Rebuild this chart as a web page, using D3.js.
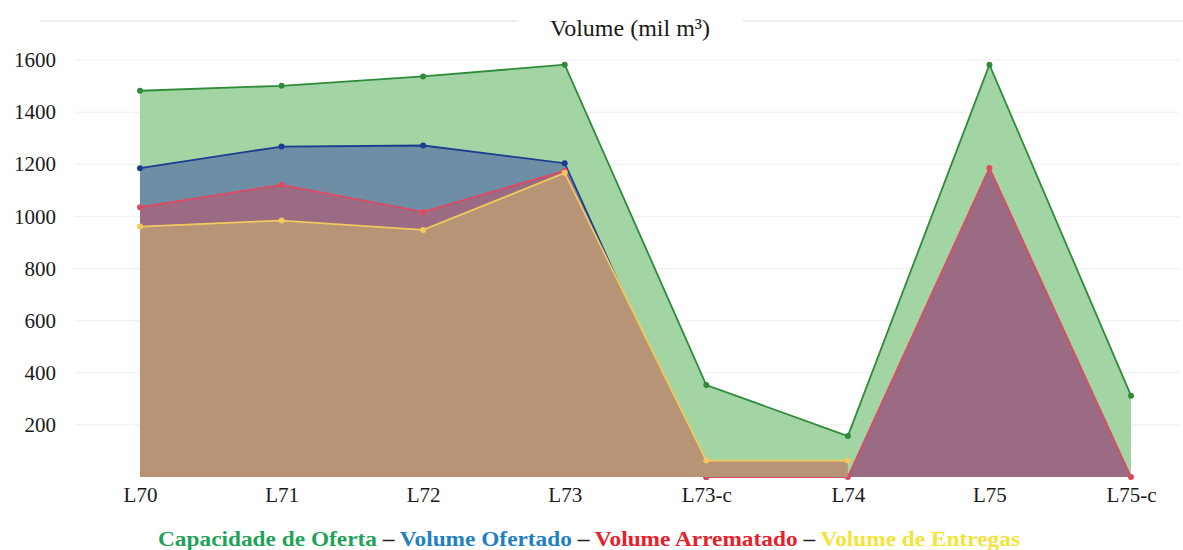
<!DOCTYPE html>
<html>
<head>
<meta charset="utf-8">
<script src="https://cdn.jsdelivr.net/npm/d3@7"></script>
<style>
body{margin:0;background:#fff;}
svg{display:block;}
</style>
</head>
<body>
<svg id="chart" width="1183" height="550"></svg>
<script>
const categories = ["L70","L71","L72","L73","L73-c","L74","L75","L75-c"];
const capacidade = [1482,1501,1537,1582,353,157,1582,312];
const ofertado   = [1185,1268,1272,1204,0,null,null,null];
const arrematado = [1035,1121,1017,1175,0,0,1186,0];
const entregas   = [961,984,948,1167,63,63,null,null];
const yTicks = [200,400,600,800,1000,1200,1400,1600];
const seriesNames = ["Capacidade de Oferta","Volume Ofertado","Volume Arrematado","Volume de Entregas"];

const FONT = "Liberation Serif, Times New Roman, serif";

const series = [
  {name:seriesNames[0], values:capacidade, fill:"#a3d4a3", stroke:"#2f8a3a", legend:"#1fa35a"},
  {name:seriesNames[1], values:ofertado,   fill:"#6e8ea6", stroke:"#1c3c8f", legend:"#1f80c4"},
  {name:seriesNames[2], values:arrematado, fill:"#9a6b83", stroke:"#dc4a64", legend:"#e8202c"},
  {name:seriesNames[3], values:entregas,   fill:"#b69475", stroke:"#f2c95e", legend:"#f2e43a"}
];

const svg = d3.select("#chart");
const x = d3.scalePoint().domain(categories).range([140,1131]);
const y = d3.scaleLinear().domain([0,1600]).range([477,60]);

// top rule interrupted by title
svg.append("line").attr("x1",40).attr("x2",517).attr("y1",21).attr("y2",21).attr("stroke","#e6e6e6").attr("stroke-width",1.5);
svg.append("line").attr("x1",743).attr("x2",1183).attr("y1",21).attr("y2",21).attr("stroke","#e6e6e6").attr("stroke-width",1.5);

// grid
svg.append("g").selectAll("line").data(yTicks).join("line")
  .attr("x1",75).attr("x2",1180)
  .attr("y1",d=>y(d)).attr("y2",d=>y(d))
  .attr("stroke","#eeeeee").attr("stroke-width",1);

// y axis labels
const yAxis = d3.axisLeft(y).tickValues(yTicks).tickFormat(d3.format("d")).tickSize(0).tickPadding(0);
const yg = svg.append("g").attr("transform","translate(56,0)").call(yAxis);
yg.attr("font-family",FONT);
yg.select(".domain").remove();
yg.selectAll("text").attr("font-family",FONT).attr("font-size",21).attr("fill","#1a1a1a");

// series
const area = d3.area().defined(d=>d!=null).x((d,i)=>x(categories[i])).y0(y(0)).y1(d=>y(d));
const line = d3.line().defined(d=>d!=null).x((d,i)=>x(categories[i])).y(d=>y(d));

series.forEach(s=>{
  const g = svg.append("g");
  const vals = s.values.map((v,i)=>({v,i}));
  g.append("path").datum(s.values).attr("d",area).attr("fill",s.fill);
  g.append("path").datum(s.values).attr("d",line).attr("fill","none").attr("stroke",s.stroke).attr("stroke-width",1.8);
  g.selectAll("circle").data(vals.filter(d=>d.v!=null)).join("circle")
    .attr("cx",d=>x(categories[d.i])).attr("cy",d=>y(d.v)).attr("r",3).attr("fill",s.stroke);
});

// x axis labels
const xAxis = d3.axisBottom(x).tickSize(0).tickPadding(0);
const xg = svg.append("g").attr("transform","translate(0,487)").call(xAxis);
xg.attr("font-family",FONT);
xg.select(".domain").remove();
xg.selectAll("text").attr("font-family",FONT).attr("font-size",21).attr("fill","#1a1a1a");

// title
svg.append("text").attr("x",630).attr("y",36).attr("text-anchor","middle")
  .attr("font-family",FONT).attr("font-size",24).attr("fill","#1a1a1a")
  .text("Volume (mil m³)");

// legend
const lg = svg.append("text").attr("x",589).attr("y",546).attr("text-anchor","middle")
  .attr("font-family",FONT).attr("font-size",22).attr("font-weight","bold")
  .attr("textLength",862).attr("lengthAdjust","spacingAndGlyphs");
series.forEach((s,i)=>{
  if(i>0) lg.append("tspan").attr("fill","#222").text(" – ");
  lg.append("tspan").attr("fill",s.legend).text(s.name);
});
</script>
</body>
</html>
